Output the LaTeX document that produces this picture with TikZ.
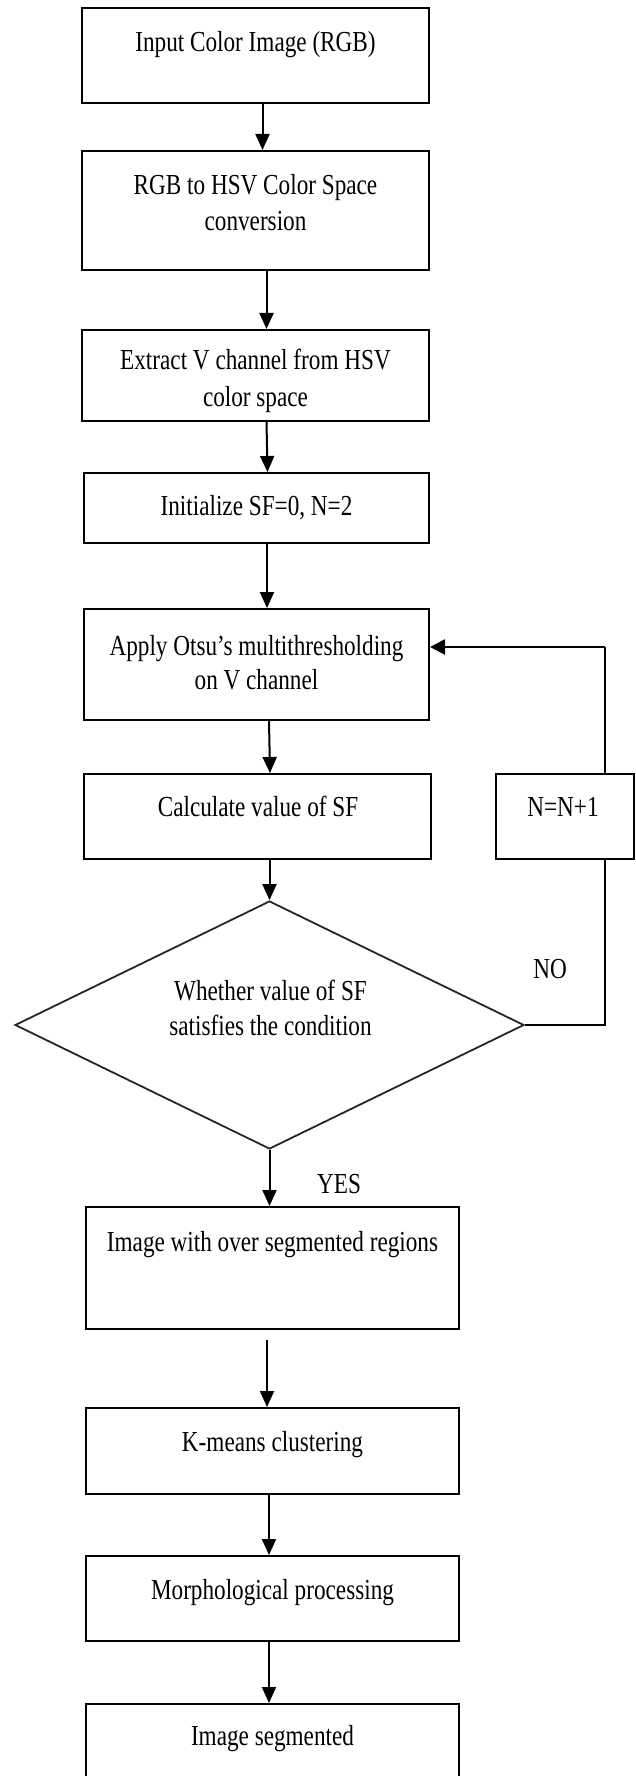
\documentclass[tikz,border=0pt]{standalone}
\usepackage{fontspec}
\setmainfont{Liberation Serif}[FakeStretch=0.8]
\usetikzlibrary{arrows.meta,shapes.geometric}
\begin{document}
\begin{tikzpicture}[x=1pt,y=-1pt,
  stepbox/.style={draw=black,line width=2pt,rectangle,inner sep=0pt},
  decision/.style={draw=black!85,line width=1.8pt,diamond,inner sep=0pt,minimum width=509pt,minimum height=248pt},
  txt/.style={anchor=base,inner sep=0pt,font=\fontsize{29}{29}\selectfont},
  flow/.style={line width=2pt,-{Triangle[length=16pt,width=14pt]}},
  loopline/.style={line width=1.6pt},
  looparrow/.style={line width=2.6pt,-{Triangle[length=15pt,width=15pt]}}]
\useasboundingbox (0,0) rectangle (635,1776);
\clip (0,0) rectangle (635,1776);
\fill[white] (0,0) rectangle (635,1776);
% boxes
\node[stepbox,minimum width=347pt,minimum height=95pt] (b1) at (255.5,55.5) {};
\node[stepbox,minimum width=347pt,minimum height=119pt] (b2) at (255.5,210.5) {};
\node[stepbox,minimum width=347pt,minimum height=91pt] (b3) at (255.5,375.5) {};
\node[stepbox,minimum width=345pt,minimum height=70pt] (b4) at (256.5,508) {};
\node[stepbox,minimum width=345pt,minimum height=111pt] (b5) at (256.5,664.5) {};
\node[stepbox,minimum width=347pt,minimum height=85pt] (b6) at (257.5,816.5) {};
\node[stepbox,minimum width=138pt,minimum height=85pt] (bn) at (565,816.5) {};
\node[decision] (dia) at (269.5,1025) {};
\node[stepbox,minimum width=373pt,minimum height=122pt] (b7) at (272.5,1268) {};
\node[stepbox,minimum width=373pt,minimum height=86pt] (b8) at (272.5,1451) {};
\node[stepbox,minimum width=373pt,minimum height=85pt] (b9) at (272.5,1598.5) {};
\node[stepbox,minimum width=373pt,minimum height=96pt] (b10) at (272.5,1752) {};
% texts
\node[txt] (t1) at (255.5,52) {Input Color Image (RGB)};
\node[txt] (t2a) at (255.5,195) {RGB to HSV Color Space};
\node[txt] (t2b) at (255.5,231) {conversion};
\node[txt] (t3a) at (255.5,369) {Extract V channel from HSV};
\node[txt] (t3b) at (255.5,406) {color space};
\node[txt] (t4) at (256.5,515) {Initialize SF=0, N=2};
\node[txt] (t5a) at (256.5,655) {Apply Otsu’s multithresholding};
\node[txt] (t5b) at (256.5,689) {on V channel};
\node[txt] (t6) at (258,816) {Calculate value of SF};
\node[txt] (tn) at (563,816) {N=N+1};
\node[txt] (td1) at (270.5,1000) {Whether value of SF};
\node[txt] (td2) at (270.5,1035) {satisfies the condition};
\node[txt] (tno) at (550,978) {NO};
\node[txt] (tyes) at (339,1193) {YES};
\node[txt] (t7) at (272.5,1251) {Image with over segmented regions};
\node[txt] (t8) at (272.5,1451) {K-means clustering};
\node[txt] (t9) at (272.5,1599) {Morphological processing};
\node[txt] (t10) at (272.5,1745) {Image segmented};
% loop corner
\coordinate (lp) at (605,647);
% connectors
\draw[flow] ([xshift=7pt]b1.south) -- ([xshift=7pt]b2.north);
\draw[flow] ([xshift=11pt]b2.south) -- ([xshift=11pt]b3.north);
\draw[flow] ([xshift=11pt]b3.south) -- ([xshift=11pt]b4.north);
\draw[flow] ([xshift=10.5pt]b4.south) -- ([xshift=10.5pt]b5.north);
\draw[flow] ([xshift=12.5pt]b5.south) -- ([xshift=12.5pt]b6.north);
\draw[flow] (b6.south -| dia.north) -- (dia.north);
\draw[flow] (dia.south) -- (dia.south |- b7.north);
\draw[flow] ([xshift=-5.5pt,yshift=-10pt]b7.south) -- ([xshift=-5.5pt]b8.north);
\draw[flow] ([xshift=-3.5pt]b8.south) -- ([xshift=-3.5pt]b9.north);
\draw[flow] ([xshift=-3.5pt]b9.south) -- ([xshift=-3.5pt]b10.north);
\draw[loopline] (dia.east) -| (lp |- bn.south);
\draw[loopline] (lp |- bn.north) -- (lp);
\draw[looparrow] (lp) -- (lp -| b5.east);
\end{tikzpicture}
\end{document}
